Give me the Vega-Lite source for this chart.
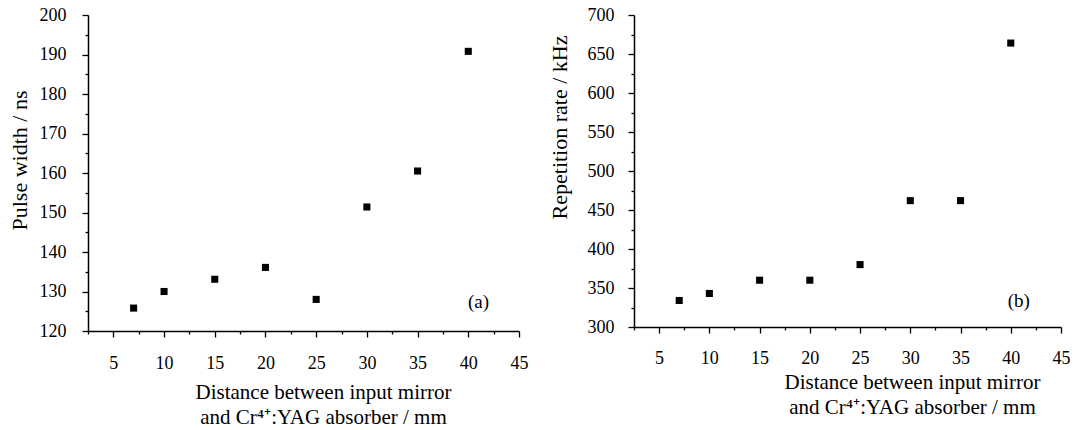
{
  "$schema": "https://vega.github.io/schema/vega-lite/v6.json",
  "background": "white",
  "padding": {"left": 8, "top": 6, "right": 5, "bottom": 2},
  "bounds": "flush",
  "spacing": 115,
  "datasets": {
    "a": [
      {"d": 7, "w": 125.8},
      {"d": 10, "w": 130},
      {"d": 15, "w": 133.1},
      {"d": 20, "w": 136.1},
      {"d": 25, "w": 128},
      {"d": 30, "w": 151.4},
      {"d": 35, "w": 160.5},
      {"d": 40, "w": 190.8}
    ],
    "b": [
      {"d": 7, "r": 334},
      {"d": 10, "r": 343},
      {"d": 15, "r": 360},
      {"d": 20, "r": 360},
      {"d": 25, "r": 380},
      {"d": 30, "r": 462},
      {"d": 35, "r": 462},
      {"d": 40, "r": 664}
    ],
    "la": [{"d": 41, "w": 127.4, "t": "(a)"}],
    "lb": [{"d": 40.8, "r": 333.5, "t": "(b)"}]
  },
  "config": {
    "view": {"stroke": null},
    "font": "Liberation Serif",
    "axis": {
      "grid": false,
      "domainColor": "black",
      "domainWidth": 1.5,
      "tickColor": "black",
      "tickWidth": 1.3,
      "labelColor": "black",
      "titleColor": "black",
      "labelFont": "Liberation Serif",
      "titleFont": "Liberation Serif",
      "labelFontSize": 18,
      "titleFontSize": 21,
      "titleFontWeight": "normal",
      "labelOverlap": false,
      "labelFlush": false,
      "labelBound": false,
      "tickCount": 100
    }
  },
  "hconcat": [
    {
      "width": 431,
      "height": 316,
      "layer": [
        {
          "data": {"name": "a"},
          "mark": {"type": "square", "size": 50, "color": "black", "opacity": 1},
          "encoding": {
            "x": {
              "field": "d",
              "type": "quantitative",
              "scale": {"domain": [2.5, 45], "nice": false, "zero": false},
              "axis": {
                "title": ["Distance between input mirror", "and Cr⁴⁺:YAG absorber / mm"],
                "values": [2.5, 5, 7.5, 10, 12.5, 15, 17.5, 20, 22.5, 25, 27.5, 30, 32.5, 35, 37.5, 40, 42.5, 45],
                "tickCount": 100,
                "labelExpr": "datum.value % 5 === 0 ? '' + datum.value : ''",
                "tickSize": {"condition": {"test": "datum.value % 5 !== 0", "value": 3}, "value": 6},
                "labelOverlap": false,
                "labelPadding": 17,
                "titlePadding": 9,
                "titleLineHeight": 25,
                "titleX": 235
              }
            },
            "y": {
              "field": "w",
              "type": "quantitative",
              "scale": {"domain": [120, 200], "nice": false, "zero": false},
              "axis": {
                "title": "Pulse width / ns",
                "titleFontSize": 22,
                "values": [120, 125, 130, 135, 140, 145, 150, 155, 160, 165, 170, 175, 180, 185, 190, 195, 200],
                "tickCount": 100,
                "labelExpr": "datum.value % 10 === 0 ? '' + datum.value : ''",
                "tickSize": {"condition": {"test": "datum.value % 10 !== 0", "value": 3}, "value": 6},
                "labelOverlap": false,
                "labelPadding": 16,
                "titlePadding": 8,
                "titleY": 145
              }
            }
          }
        },
        {
          "data": {"name": "la"},
          "mark": {"type": "text", "fontSize": 19, "font": "Liberation Serif", "color": "black", "align": "center", "baseline": "middle"},
          "encoding": {
            "x": {"field": "d", "type": "quantitative"},
            "y": {"field": "w", "type": "quantitative"},
            "text": {"field": "t"}
          }
        }
      ]
    },
    {
      "width": 427,
      "height": 312,
      "layer": [
        {
          "data": {"name": "b"},
          "mark": {"type": "square", "size": 50, "color": "black", "opacity": 1},
          "encoding": {
            "x": {
              "field": "d",
              "type": "quantitative",
              "scale": {"domain": [2.5, 45], "nice": false, "zero": false},
              "axis": {
                "title": ["Distance between input mirror", "and Cr⁴⁺:YAG absorber / mm"],
                "values": [2.5, 5, 7.5, 10, 12.5, 15, 17.5, 20, 22.5, 25, 27.5, 30, 32.5, 35, 37.5, 40, 42.5, 45],
                "tickCount": 100,
                "labelExpr": "datum.value % 5 === 0 ? '' + datum.value : ''",
                "tickSize": {"condition": {"test": "datum.value % 5 !== 0", "value": 3}, "value": 6},
                "labelOverlap": false,
                "labelPadding": 16,
                "titlePadding": 4,
                "titleLineHeight": 25,
                "titleX": 278
              }
            },
            "y": {
              "field": "r",
              "type": "quantitative",
              "scale": {"domain": [300, 700], "nice": false, "zero": false},
              "axis": {
                "title": "Repetition rate / kHz",
                "titleFontSize": 22,
                "values": [300, 325, 350, 375, 400, 425, 450, 475, 500, 525, 550, 575, 600, 625, 650, 675, 700],
                "tickCount": 100,
                "labelExpr": "datum.value % 50 === 0 ? '' + datum.value : ''",
                "tickSize": {"condition": {"test": "datum.value % 50 !== 0", "value": 3}, "value": 6},
                "labelOverlap": false,
                "labelPadding": 14,
                "titlePadding": 16,
                "titleY": 112
              }
            }
          }
        },
        {
          "data": {"name": "lb"},
          "mark": {"type": "text", "fontSize": 19, "font": "Liberation Serif", "color": "black", "align": "center", "baseline": "middle"},
          "encoding": {
            "x": {"field": "d", "type": "quantitative"},
            "y": {"field": "r", "type": "quantitative"},
            "text": {"field": "t"}
          }
        }
      ]
    }
  ]
}
